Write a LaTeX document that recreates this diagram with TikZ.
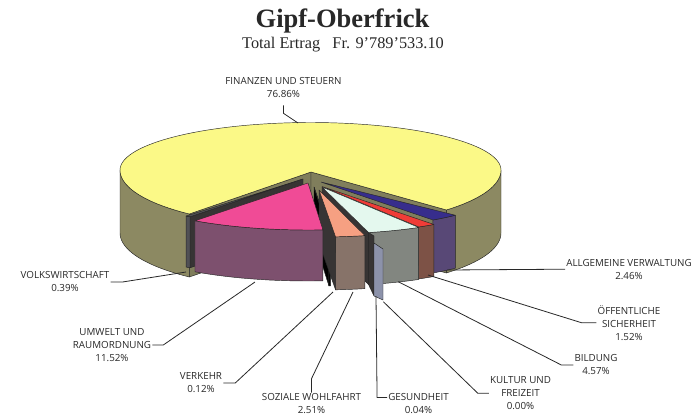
\documentclass[tikz,border=0pt]{standalone}
\usepackage{fontspec}
\setmainfont{Liberation Serif}
\newfontfamily\labfont{Open Sans}
\definecolor{yellowT}{RGB}{251,249,135}
\definecolor{oliveS}{RGB}{140,137,98}
\definecolor{oliveW}{RGB}{128,126,92}
\definecolor{pinkT}{RGB}{240,75,150}
\definecolor{mauveS}{RGB}{125,80,110}
\definecolor{salmonT}{RGB}{246,160,130}
\definecolor{brownS}{RGB}{135,115,105}
\definecolor{mintT}{RGB}{228,248,238}
\definecolor{greyS}{RGB}{130,134,128}
\definecolor{redT}{RGB}{240,60,55}
\definecolor{brownR}{RGB}{125,82,70}
\definecolor{blueT}{RGB}{55,45,140}
\definecolor{purpS}{RGB}{88,72,118}
\definecolor{gesC}{RGB}{140,146,170}
\definecolor{darkW}{RGB}{55,52,52}
\definecolor{volkS}{RGB}{80,80,85}
\definecolor{inkC}{RGB}{40,40,40}
% slice: apex x, apex y, start angle, end angle, height, top colour, side colour
\newcommand\pslice[7]{%
  \filldraw[edge, fill=#7] plot[domain=#3:#4,samples=16] ({#1+190*cos(\x)},{#2-47*sin(\x)})
     -- plot[domain=#4:#3,samples=16] ({#1+190*cos(\x)},{#2+#5-47*sin(\x)}) -- cycle;
  \filldraw[edge, fill=#6] (#1,#2) -- plot[domain=#3:#4,samples=16] ({#1+190*cos(\x)},{#2-47*sin(\x)}) -- cycle;
}
% radial wall: apex x, apex y, angle, height, colour
\newcommand\pwall[5]{%
  \filldraw[edge, fill=#5] (#1,#2) -- ({#1+190*cos(#3)},{#2-47*sin(#3)})
     -- ({#1+190*cos(#3)},{#2+#4-47*sin(#3)}) -- (#1,{#2+#4}) -- cycle;
}
\begin{document}
\begin{tikzpicture}[x=1pt,y=-1pt,line join=round,
  edge/.style={draw=black!85,line width=0.45pt},
  lab/.style={font=\labfont\fontsize{9.8}{13}\selectfont,text=inkC,align=center,inner sep=1pt},
  leader/.style={draw=inkC,line width=0.8pt}]
\useasboundingbox (0,0) rectangle (696,418);
\fill[white] (0,0) rectangle (696,418);
% titles
\node[font=\bfseries\fontsize{26.5}{29}\selectfont,anchor=base,text=inkC] (title) at (342.5,27) {Gipf-Oberfrick};
\node[font=\fontsize{16.3}{19}\selectfont,anchor=base,text=inkC] (sub) at (343,48) {Total Ertrag\ \ \ Fr. 9’789’533.10};
% ---- big yellow slice (Finanzen und Steuern)
\filldraw[edge,fill=oliveS] plot[domain=180:230.5,samples=30] ({310.5+190.5*cos(\x)},{170-57*sin(\x)})
   -- plot[domain=230.5:180,samples=30] ({310.5+190.5*cos(\x)},{233-57*sin(\x)}) -- cycle;
\filldraw[edge,fill=oliveS] plot[domain=315.5:360,samples=30] ({310.5+190.5*cos(\x)},{170-57*sin(\x)})
   -- plot[domain=360:315.5,samples=30] ({310.5+190.5*cos(\x)},{233-57*sin(\x)}) -- cycle;
\filldraw[edge,fill=oliveW] (311,172) -- (189.3,214) -- (189.3,277) -- (311,235) -- cycle;
\filldraw[edge,fill=oliveW] (311,172) -- (446.4,210) -- (446.4,273) -- (311,235) -- cycle;
\filldraw[edge,fill=yellowT] (311,172)
   -- plot[domain=315.5:360,samples=30] ({310.5+190.5*cos(\x)},{170-57*sin(\x)})
   -- plot[domain=0:180,samples=80] ({310.5+190.5*cos(\x)},{170-47.5*sin(\x)})
   -- plot[domain=180:230.5,samples=30] ({310.5+190.5*cos(\x)},{170-57*sin(\x)}) -- cycle;
% ---- exploded slices
\pslice{321}{182}{306.1}{315}{53}{blueT}{purpS}
\pslice{322}{186.5}{300.6}{306.1}{52}{redT}{brownR}
\pwall{322}{187}{284.2}{52}{darkW}
\pslice{322}{187}{284.2}{300.6}{52}{mintT}{greyS}
\filldraw[edge,fill=darkW] (368.6,232.6) -- (374,236) -- (374,296) -- (368.6,284.6) -- cycle;
\filldraw[edge,fill=gesC] (374,243) -- (383,249) -- (383,300) -- (374,296) -- cycle;
\pwall{314}{187}{274.5}{52}{black}
\pslice{314}{187}{274.5}{275}{52}{black}{black}
\pwall{319}{190}{275}{53}{darkW}
\pslice{319}{190}{275}{284}{53}{salmonT}{brownS}
\pwall{303}{179}{233.5}{51}{darkW}
\pslice{303}{179}{232}{233.5}{51}{volkS}{volkS}
\pslice{308}{183}{233.5}{274.5}{51}{pinkT}{mauveS}
% ---- anchor points on the slices
\coordinate (finP) at (298,123);
\coordinate (volP) at (186,272);
\coordinate (umwP) at (255,282);
\coordinate (verP) at (333,292);
\coordinate (sozP) at (353,292);
\coordinate (gesP) at (376,296);
\coordinate (kulP) at (383.3,301.7);
\coordinate (bilP) at (398.3,281.7);
\coordinate (oefP) at (428,275);
\coordinate (allP) at (447,270);
% ---- labels
\node[lab] (fin) at (283.5,88) {FINANZEN UND STEUERN\\76.86\%};
\node[lab] (vol) at (65,282) {VOLKSWIRTSCHAFT\\0.39\%};
\node[lab] (umw) at (112,345) {UMWELT UND\\RAUMORDNUNG\\11.52\%};
\node[lab] (ver) at (201,383) {VERKEHR\\0.12\%};
\node[lab] (soz) at (311.5,404) {SOZIALE WOHLFAHRT\\2.51\%};
\node[lab] (ges) at (418.5,404) {GESUNDHEIT\\0.04\%};
\node[lab] (kul) at (520.5,393.3) {KULTUR UND\\FREIZEIT\\0.00\%};
\node[lab] (bil) at (596,365) {BILDUNG\\4.57\%};
\node[lab] (oef) at (629,322.7) {ÖFFENTLICHE\\SICHERHEIT\\1.52\%};
\node[lab] (all) at (629,269.2) {ALLGEMEINE VERWALTUNG\\2.46\%};
% ---- leaders
\draw[leader] ([yshift=-6pt]fin.south) -- ++(0,8) -- (finP);
\draw[leader] (vol.east) -- ++(12,0) -- (volP);
\draw[leader] (umw.east) -- ++(11,0) -- (umwP);
\draw[leader] (ver.east) -- ++(12,0) -- (verP);
\draw[leader] (soz.north) -- ++(0,-14) -- (sozP);
\draw[leader] ([yshift=6.5pt]ges.west) -- ++(-10,0) -- (gesP);
\draw[leader] (kul.west) -- ++(-11,0) -- (kulP);
\draw[leader] (bil.west) -- ++(-12,0) -- (bilP);
\draw[leader] (oef.west) -- ++(-15,0) -- (oefP);
\draw[leader] (all.west) -- (allP);
\end{tikzpicture}
\end{document}
